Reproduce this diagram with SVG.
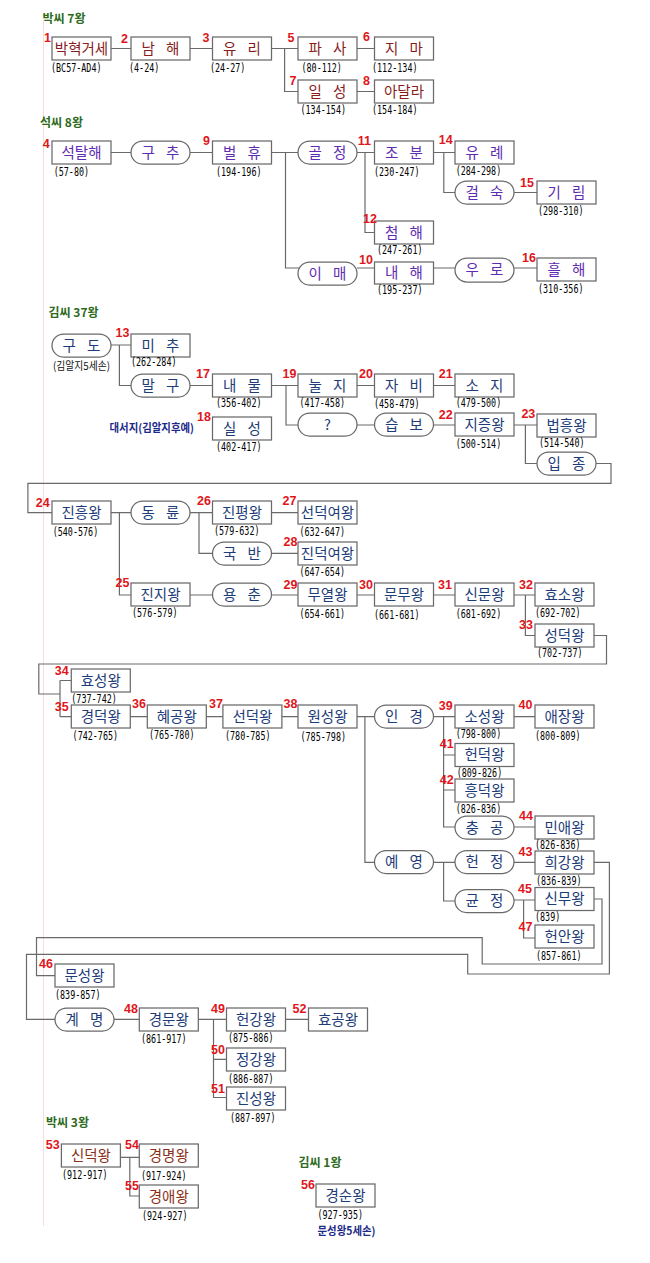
<svg xmlns="http://www.w3.org/2000/svg" width="650" height="1263" viewBox="0 0 650 1263">
<style>
.bx{fill:#fff;stroke:#6a6a6a;stroke-width:1.25}
.nm{font-family:"Noto Sans CJK KR","Noto Sans",sans-serif;font-size:14.5px;text-anchor:middle}
.sp{letter-spacing:4px}
.pk{fill:#861c1c}.sk{fill:#5e2cb0}.km{fill:#1d3c78}.pb{fill:#8a3018}
.n{font-family:"Liberation Sans",Arial,sans-serif;font-size:12.5px;font-weight:bold;fill:#e0161b;text-anchor:end}
.d{font-family:"DejaVu Sans Mono","Liberation Mono",monospace;font-size:11.5px;fill:#000}
.t{font-family:"Noto Sans CJK KR",sans-serif;font-size:12px;font-weight:bold;fill:#2d6a1c}
.k{font-family:"Noto Sans CJK KR",sans-serif;font-size:11px}
#conn path{fill:none;stroke:#6a6a6a;stroke-width:1.2}
</style>
<line x1="43.5" y1="20" x2="43.5" y2="1226" stroke="#f6dcdc" stroke-width="1"/>
<g id="titles">
<text class="t" x="42.5" y="22.5">박씨 7왕</text>
<text class="t" x="40" y="126.5">석씨 8왕</text>
<text class="t" x="48.5" y="316.5">김씨 37왕</text>
<text class="t" x="46" y="1126.5">박씨 3왕</text>
<text class="t" x="298.5" y="1166.5">김씨 1왕</text>
</g>
<g id="conn">
<path d="M111 48.5H131M190 48.5H212.5M271.5 48.5H298M284.6 48.5V91.5H298M357 48.5H374.5M357 91.5H374.5"/>
<path d="M111 152.5H131M190 152.5H212.5M271.5 152.5H298M285.5 152.5V268H300M357 152.5H374.5M365 152.5V232.5H374.5M433.5 152.5H455M443.8 152.5V192.5H456M514 192.5H537M357 268H374.5M433.5 268H456M514 268H537"/>
<path d="M111 345H131M119.4 345V385.5H132M190 385.5H212.5M271.5 385.5H298M286 385.5V425H299M357 425H375M433.5 425H455M357 385.5H374.5M433.5 385.5H455M514 425H537M525.4 425V463.5H538M596 463.5H611V483.3H27.9V512.7H52"/>
<path d="M111 512.7H132M119.4 512.7V595H131M190 512.7H212.5M199 512.7V553.3H213M271.5 512.7H298M271.5 553.3H298M190 595H213M271.5 595H298M357 595H374.5M433.5 595H455M514 595H535M525.4 595V635.5H535M594 635.5H606.5V664H38.8V694H60M60 680.5V716.7M60 680.5H71.3M60 716.7H71.3"/>
<path d="M130.3 716.7H147.3M206.3 716.7H222.9M281.9 716.7H298M357 716.7H375M364.9 716.7V862.3H375M433.5 716.7H455M443.6 716.7V827H456M443.6 755H455M443.6 790H455M514 716.7H535M514 827H535M433.5 862.3H456M443.6 862.3V901H456M514 862.3H535M514 900H535M523.6 900V938H535"/>
<path d="M594 899H602V964H482.2V937.7H36.5V975.7H55M594 862.3H609.4V974H467.7V954.3H26.5V1019.3H56"/>
<path d="M114 1019.3H139.3M198.3 1019.3H226.5M213.5 1019.3V1097.5H226.5M213.5 1059.3H226.5M285.5 1019.3H308.5M120.4 1157.3H139.3M129.8 1157.3V1196H139.3"/>
</g>
<g id="n1"><rect class="bx" x="52" y="37" width="59" height="23"/><text class="nm pk" x="81.5" y="53.5">박혁거세</text><text class="n" x="51" y="42">1</text><text class="d" x="51" y="71.5" textLength="50.5" lengthAdjust="spacingAndGlyphs">(BC57-AD4)</text></g>
<g id="n2"><rect class="bx" x="131" y="37" width="59" height="23"/><text class="nm pk sp" x="162.5" y="53.5">남 해</text><text class="n" x="128" y="42.5">2</text><text class="d" x="129" y="71.5" textLength="30.3" lengthAdjust="spacingAndGlyphs">(4-24)</text></g>
<g id="n3"><rect class="bx" x="212.5" y="37" width="59" height="23"/><text class="nm pk sp" x="244" y="53.5">유 리</text><text class="n" x="209.4" y="42">3</text><text class="d" x="210" y="71.5" textLength="35.4" lengthAdjust="spacingAndGlyphs">(24-27)</text></g>
<g id="n5"><rect class="bx" x="298" y="37" width="59" height="23"/><text class="nm pk sp" x="329.5" y="53.5">파 사</text><text class="n" x="294.5" y="42">5</text><text class="d" x="301.5" y="71.5" textLength="40.4" lengthAdjust="spacingAndGlyphs">(80-112)</text></g>
<g id="n6"><rect class="bx" x="374.5" y="37" width="59" height="23"/><text class="nm pk sp" x="406" y="53.5">지 마</text><text class="n" x="370" y="40.5">6</text><text class="d" x="372" y="71.5" textLength="45.5" lengthAdjust="spacingAndGlyphs">(112-134)</text></g>
<g id="n7"><rect class="bx" x="298" y="80" width="59" height="23"/><text class="nm pk sp" x="329.5" y="96.5">일 성</text><text class="n" x="296.5" y="84.5">7</text><text class="d" x="300.5" y="113.5" textLength="45.5" lengthAdjust="spacingAndGlyphs">(134-154)</text></g>
<g id="n8"><rect class="bx" x="374.5" y="80" width="59" height="23"/><text class="nm pk" x="404" y="96.5">아달라</text><text class="n" x="370" y="84.5">8</text><text class="d" x="372" y="113.5" textLength="45.5" lengthAdjust="spacingAndGlyphs">(154-184)</text></g>
<g id="n4"><rect class="bx" x="52" y="141" width="59" height="23"/><text class="nm sk" x="81.5" y="157.5">석탈해</text><text class="n" x="49.7" y="147.5">4</text><text class="d" x="53.7" y="175.5" textLength="35.4" lengthAdjust="spacingAndGlyphs">(57-80)</text></g>
<g id="p-guchu"><rect class="bx" x="131" y="141" width="59" height="23" rx="11.5"/><text class="nm sk sp" x="162.5" y="157.5">구 추</text></g>
<g id="n9"><rect class="bx" x="212.5" y="141" width="59" height="23"/><text class="nm sk sp" x="244" y="157.5">벌 휴</text><text class="n" x="210" y="144.5">9</text><text class="d" x="216" y="175.5" textLength="45.5" lengthAdjust="spacingAndGlyphs">(194-196)</text></g>
<g id="p-goljeong"><rect class="bx" x="298" y="141" width="59" height="23" rx="11.5"/><text class="nm sk sp" x="329.5" y="157.5">골 정</text></g>
<g id="n11"><rect class="bx" x="374.5" y="141" width="59" height="23"/><text class="nm sk sp" x="406" y="157.5">조 분</text><text class="n" x="371" y="144.5">11</text><text class="d" x="374" y="175.5" textLength="45.5" lengthAdjust="spacingAndGlyphs">(230-247)</text></g>
<g id="n14"><rect class="bx" x="455" y="141" width="59" height="23"/><text class="nm sk sp" x="486.5" y="157.5">유 례</text><text class="n" x="452.7" y="143.5">14</text><text class="d" x="455.7" y="174.5" textLength="45.5" lengthAdjust="spacingAndGlyphs">(284-298)</text></g>
<g id="p-geolsuk"><rect class="bx" x="455" y="181" width="59" height="23" rx="11.5"/><text class="nm sk sp" x="486.5" y="197.5">걸 숙</text></g>
<g id="n15"><rect class="bx" x="537" y="181" width="59" height="23"/><text class="nm sk sp" x="568.5" y="197.5">기 림</text><text class="n" x="534" y="186.5">15</text><text class="d" x="538" y="214.5" textLength="45.5" lengthAdjust="spacingAndGlyphs">(298-310)</text></g>
<g id="n12"><rect class="bx" x="374.5" y="221" width="59" height="23"/><text class="nm sk sp" x="406" y="237.5">첨 해</text><text class="n" x="377" y="222.5">12</text><text class="d" x="377" y="253.5" textLength="45.5" lengthAdjust="spacingAndGlyphs">(247-261)</text></g>
<g id="p-imae"><rect class="bx" x="298" y="262" width="59" height="23" rx="11.5"/><text class="nm sk sp" x="329.5" y="278.5">이 매</text></g>
<g id="n10"><rect class="bx" x="374.5" y="262" width="59" height="22"/><text class="nm sk sp" x="406" y="278">내 해</text><text class="n" x="373" y="264">10</text><text class="d" x="377" y="293.5" textLength="45.5" lengthAdjust="spacingAndGlyphs">(195-237)</text></g>
<g id="p-uro"><rect class="bx" x="455" y="258" width="59" height="24" rx="12"/><text class="nm sk sp" x="486.5" y="275">우 로</text></g>
<g id="n16"><rect class="bx" x="537" y="258" width="59" height="23"/><text class="nm sk sp" x="568.5" y="274.5">흘 해</text><text class="n" x="536" y="262">16</text><text class="d" x="538" y="292.5" textLength="45.5" lengthAdjust="spacingAndGlyphs">(310-356)</text></g>
<g id="p-gudo"><rect class="bx" x="52" y="334" width="59" height="23" rx="11.5"/><text class="nm km sp" x="83.5" y="350.5">구 도</text><text class="k" x="53" y="369.5" fill="#111" textLength="57" lengthAdjust="spacingAndGlyphs">(김알지5세손)</text></g>
<g id="n13"><rect class="bx" x="131" y="334" width="59" height="23"/><text class="nm km sp" x="162.5" y="350.5">미 추</text><text class="n" x="129.4" y="336.5">13</text><text class="d" x="131" y="365.5" textLength="45.5" lengthAdjust="spacingAndGlyphs">(262-284)</text></g>
<g id="p-malgu"><rect class="bx" x="131" y="374" width="59" height="23" rx="11.5"/><text class="nm km sp" x="162.5" y="390.5">말 구</text></g>
<g id="n17"><rect class="bx" x="212.5" y="374" width="59" height="23"/><text class="nm km sp" x="244" y="390.5">내 물</text><text class="n" x="210" y="377.5">17</text><text class="d" x="216" y="406.5" textLength="45.5" lengthAdjust="spacingAndGlyphs">(356-402)</text></g>
<g id="n19"><rect class="bx" x="298" y="374" width="59" height="23"/><text class="nm km sp" x="329.5" y="390.5">눌 지</text><text class="n" x="296.5" y="377.5">19</text><text class="d" x="299.5" y="406.5" textLength="45.5" lengthAdjust="spacingAndGlyphs">(417-458)</text></g>
<g id="n20"><rect class="bx" x="374.5" y="374" width="59" height="23"/><text class="nm km sp" x="406" y="390.5">자 비</text><text class="n" x="373" y="377.5">20</text><text class="d" x="374" y="407.5" textLength="45.5" lengthAdjust="spacingAndGlyphs">(458-479)</text></g>
<g id="n21"><rect class="bx" x="455" y="374" width="59" height="23"/><text class="nm km sp" x="486.5" y="390.5">소 지</text><text class="n" x="452.7" y="377.5">21</text><text class="d" x="455.7" y="406.5" textLength="45.5" lengthAdjust="spacingAndGlyphs">(479-500)</text></g>
<g id="n18"><rect class="bx" x="212.5" y="417" width="59" height="23"/><text class="nm km sp" x="244" y="433.5">실 성</text><text class="n" x="211" y="420.5">18</text><text class="d" x="216" y="450.5" textLength="45.5" lengthAdjust="spacingAndGlyphs">(402-417)</text><text class="k" x="109.5" y="432" fill="#1c2a8a" font-weight="bold" textLength="84.5" lengthAdjust="spacingAndGlyphs">대서지(김알지후예)</text></g>
<g id="p-q"><rect class="bx" x="298" y="413" width="59" height="23" rx="11.5"/><text class="nm km" x="327.5" y="429.5">?</text></g>
<g id="p-seupbo"><rect class="bx" x="374.5" y="413" width="59" height="23" rx="11.5"/><text class="nm km sp" x="406" y="429.5">습 보</text></g>
<g id="n22"><rect class="bx" x="455" y="413" width="59" height="23"/><text class="nm km" x="484.5" y="429.5">지증왕</text><text class="n" x="452.7" y="418.5">22</text><text class="d" x="455.7" y="447.5" textLength="45.5" lengthAdjust="spacingAndGlyphs">(500-514)</text></g>
<g id="n23"><rect class="bx" x="537" y="414" width="59" height="23"/><text class="nm km" x="566.5" y="430.5">법흥왕</text><text class="n" x="535.3" y="417.5">23</text><text class="d" x="539" y="446.5" textLength="45.5" lengthAdjust="spacingAndGlyphs">(514-540)</text></g>
<g id="p-ipjong"><rect class="bx" x="537" y="452" width="59" height="23" rx="11.5"/><text class="nm km sp" x="568.5" y="468.5">입 종</text></g>
<g id="n24"><rect class="bx" x="52" y="501" width="59" height="23"/><text class="nm km" x="81.5" y="517.5">진흥왕</text><text class="n" x="49.7" y="507">24</text><text class="d" x="52.7" y="535.5" textLength="45.5" lengthAdjust="spacingAndGlyphs">(540-576)</text></g>
<g id="p-dongnyun"><rect class="bx" x="131" y="501" width="59" height="23" rx="11.5"/><text class="nm km sp" x="162.5" y="517.5">동 륜</text></g>
<g id="n26"><rect class="bx" x="212.5" y="501" width="59" height="23"/><text class="nm km" x="242" y="517.5">진평왕</text><text class="n" x="211" y="505">26</text><text class="d" x="214" y="534.5" textLength="45.5" lengthAdjust="spacingAndGlyphs">(579-632)</text></g>
<g id="n27"><rect class="bx" x="298" y="501" width="59" height="23"/><text class="nm km" x="327.5" y="517.5">선덕여왕</text><text class="n" x="296.5" y="505">27</text><text class="d" x="299.5" y="535.5" textLength="45.5" lengthAdjust="spacingAndGlyphs">(632-647)</text></g>
<g id="p-gukban"><rect class="bx" x="212.5" y="542" width="59" height="23" rx="11.5"/><text class="nm km sp" x="244" y="558.5">국 반</text></g>
<g id="n28"><rect class="bx" x="298" y="542" width="59" height="23"/><text class="nm km" x="327.5" y="558.5">진덕여왕</text><text class="n" x="297.5" y="545.5">28</text><text class="d" x="299.5" y="575.5" textLength="45.5" lengthAdjust="spacingAndGlyphs">(647-654)</text></g>
<g id="n25"><rect class="bx" x="131" y="583" width="59" height="23"/><text class="nm km" x="160.5" y="599.5">진지왕</text><text class="n" x="129.4" y="586.5">25</text><text class="d" x="132" y="616.5" textLength="45.5" lengthAdjust="spacingAndGlyphs">(576-579)</text></g>
<g id="p-yongchun"><rect class="bx" x="212.5" y="583" width="59" height="23" rx="11.5"/><text class="nm km sp" x="244" y="599.5">용 춘</text></g>
<g id="n29"><rect class="bx" x="298" y="583" width="59" height="23"/><text class="nm km" x="327.5" y="599.5">무열왕</text><text class="n" x="297.5" y="588.5">29</text><text class="d" x="299.5" y="617.5" textLength="45.5" lengthAdjust="spacingAndGlyphs">(654-661)</text></g>
<g id="n30"><rect class="bx" x="374.5" y="583" width="59" height="23"/><text class="nm km" x="404" y="599.5">문무왕</text><text class="n" x="373" y="588.5">30</text><text class="d" x="374" y="618.5" textLength="45.5" lengthAdjust="spacingAndGlyphs">(661-681)</text></g>
<g id="n31"><rect class="bx" x="455" y="583" width="59" height="23"/><text class="nm km" x="484.5" y="599.5">신문왕</text><text class="n" x="452" y="588.5">31</text><text class="d" x="455.7" y="617.5" textLength="45.5" lengthAdjust="spacingAndGlyphs">(681-692)</text></g>
<g id="n32"><rect class="bx" x="535" y="583" width="59" height="23"/><text class="nm km" x="564.5" y="599.5">효소왕</text><text class="n" x="533" y="588.5">32</text><text class="d" x="535" y="616.5" textLength="45.5" lengthAdjust="spacingAndGlyphs">(692-702)</text></g>
<g id="n33"><rect class="bx" x="535" y="624" width="59" height="23"/><text class="nm km" x="564.5" y="640.5">성덕왕</text><text class="n" x="533" y="628.5">33</text><text class="d" x="537" y="656.5" textLength="45.5" lengthAdjust="spacingAndGlyphs">(702-737)</text></g>
<g id="n34"><rect class="bx" x="71.3" y="669" width="59" height="23"/><text class="nm km" x="100.8" y="685.5">효성왕</text><text class="n" x="68.7" y="674.5">34</text><text class="d" x="71.3" y="702.5" textLength="45.5" lengthAdjust="spacingAndGlyphs">(737-742)</text></g>
<g id="n35"><rect class="bx" x="71.3" y="705" width="59" height="23"/><text class="nm km" x="100.8" y="721.5">경덕왕</text><text class="n" x="68.7" y="710.5">35</text><text class="d" x="72.6" y="739.5" textLength="45.5" lengthAdjust="spacingAndGlyphs">(742-765)</text></g>
<g id="n36"><rect class="bx" x="147.3" y="705" width="59" height="23"/><text class="nm km" x="176.8" y="721.5">혜공왕</text><text class="n" x="146" y="707.5">36</text><text class="d" x="149" y="738.5" textLength="45.5" lengthAdjust="spacingAndGlyphs">(765-780)</text></g>
<g id="n37"><rect class="bx" x="222.9" y="705" width="59" height="23"/><text class="nm km" x="252.4" y="721.5">선덕왕</text><text class="n" x="222.9" y="707.5">37</text><text class="d" x="225" y="739.5" textLength="45.5" lengthAdjust="spacingAndGlyphs">(780-785)</text></g>
<g id="n38"><rect class="bx" x="298" y="705" width="59" height="23"/><text class="nm km" x="327.5" y="721.5">원성왕</text><text class="n" x="297.5" y="707.5">38</text><text class="d" x="300.5" y="740.5" textLength="45.5" lengthAdjust="spacingAndGlyphs">(785-798)</text></g>
<g id="p-ingyeong"><rect class="bx" x="374.5" y="705" width="59" height="23" rx="11.5"/><text class="nm km sp" x="406" y="721.5">인 경</text></g>
<g id="n39"><rect class="bx" x="455" y="705" width="59" height="23"/><text class="nm km" x="484.5" y="721.5">소성왕</text><text class="n" x="452.7" y="709.5">39</text><text class="d" x="455.7" y="737.5" textLength="45.5" lengthAdjust="spacingAndGlyphs">(798-800)</text></g>
<g id="n40"><rect class="bx" x="535" y="705" width="59" height="23"/><text class="nm km" x="564.5" y="721.5">애장왕</text><text class="n" x="532.5" y="708.5">40</text><text class="d" x="535" y="739.5" textLength="45.5" lengthAdjust="spacingAndGlyphs">(800-809)</text></g>
<g id="n41"><rect class="bx" x="455" y="743.5" width="59" height="23"/><text class="nm km" x="484.5" y="760">헌덕왕</text><text class="n" x="453.7" y="747.5">41</text><text class="d" x="456.7" y="776.5" textLength="45.5" lengthAdjust="spacingAndGlyphs">(809-826)</text></g>
<g id="n42"><rect class="bx" x="455" y="779" width="59" height="23"/><text class="nm km" x="484.5" y="795.5">흥덕왕</text><text class="n" x="453.7" y="783.5">42</text><text class="d" x="455.7" y="812.5" textLength="45.5" lengthAdjust="spacingAndGlyphs">(826-836)</text></g>
<g id="p-chunggong"><rect class="bx" x="455" y="816" width="59" height="23" rx="11.5"/><text class="nm km sp" x="486.5" y="832.5">충 공</text></g>
<g id="n44"><rect class="bx" x="535" y="816" width="59" height="23"/><text class="nm km" x="564.5" y="832.5">민애왕</text><text class="n" x="533" y="819.5">44</text><text class="d" x="535" y="848.5" textLength="45.5" lengthAdjust="spacingAndGlyphs">(826-836)</text></g>
<g id="p-yeyeong"><rect class="bx" x="374.5" y="850.5" width="59" height="23" rx="11.5"/><text class="nm km sp" x="406" y="867">예 영</text></g>
<g id="p-heonjeong"><rect class="bx" x="455" y="850.5" width="59" height="23" rx="11.5"/><text class="nm km sp" x="486.5" y="867">헌 정</text></g>
<g id="n43"><rect class="bx" x="535" y="851" width="59" height="23"/><text class="nm km" x="564.5" y="867.5">희강왕</text><text class="n" x="532.5" y="855.5">43</text><text class="d" x="536" y="884.5" textLength="45.5" lengthAdjust="spacingAndGlyphs">(836-839)</text></g>
<g id="p-gyunjeong"><rect class="bx" x="455" y="889.5" width="59" height="23" rx="11.5"/><text class="nm km sp" x="486.5" y="906">균 정</text></g>
<g id="n45"><rect class="bx" x="535" y="887.5" width="59" height="23"/><text class="nm km" x="564.5" y="904">신무왕</text><text class="n" x="532" y="892.5">45</text><text class="d" x="535" y="920.5" textLength="25.3" lengthAdjust="spacingAndGlyphs">(839)</text></g>
<g id="n47"><rect class="bx" x="535" y="925" width="59" height="23"/><text class="nm km" x="564.5" y="941.5">헌안왕</text><text class="n" x="532.5" y="930.5">47</text><text class="d" x="536" y="959.5" textLength="45.5" lengthAdjust="spacingAndGlyphs">(857-861)</text></g>
<g id="n46"><rect class="bx" x="55" y="964" width="59" height="23"/><text class="nm km" x="84.5" y="980.5">문성왕</text><text class="n" x="53" y="967.5">46</text><text class="d" x="55" y="998.5" textLength="45.5" lengthAdjust="spacingAndGlyphs">(839-857)</text></g>
<g id="p-gyemyeong"><rect class="bx" x="55" y="1008" width="59" height="23" rx="11.5"/><text class="nm km sp" x="86.5" y="1024.5">계 명</text></g>
<g id="n48"><rect class="bx" x="139.3" y="1008" width="59" height="23"/><text class="nm km" x="168.8" y="1024.5">경문왕</text><text class="n" x="138" y="1012.5">48</text><text class="d" x="141" y="1042.5" textLength="45.5" lengthAdjust="spacingAndGlyphs">(861-917)</text></g>
<g id="n49"><rect class="bx" x="226.5" y="1008" width="59" height="23"/><text class="nm km" x="256" y="1024.5">헌강왕</text><text class="n" x="225" y="1012.5">49</text><text class="d" x="228" y="1041.5" textLength="45.5" lengthAdjust="spacingAndGlyphs">(875-886)</text></g>
<g id="n52"><rect class="bx" x="308.5" y="1008" width="59" height="23"/><text class="nm km" x="338" y="1024.5">효공왕</text><text class="n" x="306.5" y="1012.5">52</text></g>
<g id="n50"><rect class="bx" x="226.5" y="1048" width="59" height="23"/><text class="nm km" x="256" y="1064.5">정강왕</text><text class="n" x="225" y="1053.5">50</text><text class="d" x="228" y="1082.5" textLength="45.5" lengthAdjust="spacingAndGlyphs">(886-887)</text></g>
<g id="n51"><rect class="bx" x="226.5" y="1087" width="59" height="23"/><text class="nm km" x="256" y="1103.5">진성왕</text><text class="n" x="225" y="1092.5">51</text><text class="d" x="230" y="1121.5" textLength="45.5" lengthAdjust="spacingAndGlyphs">(887-897)</text></g>
<g id="n53"><rect class="bx" x="61.4" y="1144" width="59" height="23"/><text class="nm pb" x="90.9" y="1160.5">신덕왕</text><text class="n" x="59.7" y="1148.5">53</text><text class="d" x="62" y="1178.5" textLength="45.5" lengthAdjust="spacingAndGlyphs">(912-917)</text></g>
<g id="n54"><rect class="bx" x="139.3" y="1144" width="59" height="23"/><text class="nm pb" x="168.8" y="1160.5">경명왕</text><text class="n" x="139" y="1148.5">54</text><text class="d" x="141" y="1179.5" textLength="45.5" lengthAdjust="spacingAndGlyphs">(917-924)</text></g>
<g id="n55"><rect class="bx" x="139.3" y="1185" width="59" height="23"/><text class="nm pb" x="168.8" y="1201.5">경애왕</text><text class="n" x="139" y="1189.5">55</text><text class="d" x="142" y="1219.5" textLength="45.5" lengthAdjust="spacingAndGlyphs">(924-927)</text></g>
<g id="n56"><rect class="bx" x="316" y="1184" width="59" height="23"/><text class="nm km" x="345.5" y="1200.5">경순왕</text><text class="n" x="315" y="1188.5">56</text><text class="d" x="317.5" y="1219" textLength="45.5" lengthAdjust="spacingAndGlyphs">(927-935)</text><text class="k" x="317.5" y="1234.5" fill="#1c2a8a" font-weight="bold" font-size="10.5" textLength="58" lengthAdjust="spacingAndGlyphs">문성왕5세손)</text></g>
</svg>
